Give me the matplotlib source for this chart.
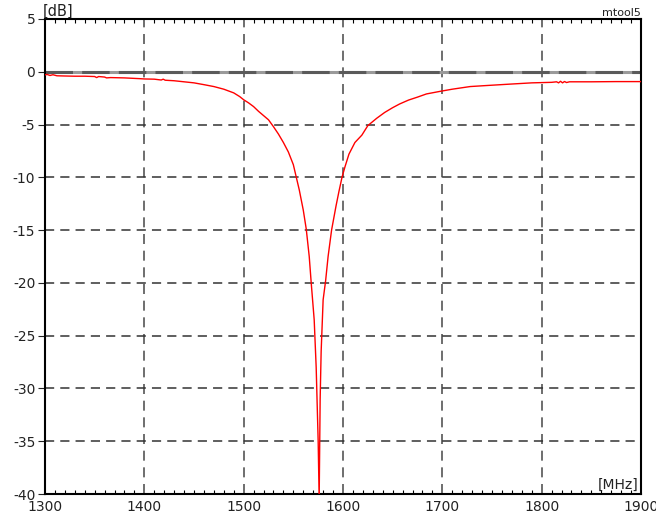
import matplotlib
matplotlib.use('Agg')
import matplotlib.pyplot as plt
from matplotlib.ticker import MultipleLocator

freq = [1300, 1302, 1305, 1308, 1312, 1320, 1330, 1340, 1350, 1352, 1354, 1360, 1362, 1366,
        1380, 1395, 1400, 1410, 1417, 1419, 1421, 1430, 1440, 1450, 1460, 1470, 1480, 1490,
        1496, 1500, 1505, 1510, 1515, 1520, 1525, 1530, 1535, 1540, 1545, 1550, 1553, 1556,
        1560, 1563, 1566, 1568, 1571, 1573, 1575, 1576, 1577, 1578, 1580, 1582.5, 1585,
        1588.5, 1593, 1596, 1599, 1602, 1606, 1612, 1619, 1625, 1634, 1642, 1650, 1657, 1666,
        1675, 1684, 1698, 1710, 1728, 1745, 1768, 1790, 1810, 1815, 1817, 1819, 1821, 1823,
        1825, 1828, 1850, 1875, 1900]
gain = [-0.30, -0.25, -0.35, -0.28, -0.38, -0.40, -0.42, -0.42, -0.45, -0.55, -0.45, -0.50,
        -0.58, -0.55, -0.58, -0.65, -0.68, -0.70, -0.78, -0.70, -0.80, -0.85, -0.95, -1.05,
        -1.22, -1.40, -1.65, -2.00, -2.35, -2.65, -2.95, -3.30, -3.75, -4.15, -4.55, -5.20,
        -5.90, -6.70, -7.60, -8.80, -10.0, -11.2, -13.1, -14.9, -17.5, -20.0, -23.5, -28.0,
        -35.0, -40.5, -31.0, -26.5, -21.6, -19.8, -17.5, -15.0, -12.7, -11.3, -10.0, -9.0,
        -7.8, -6.7, -6.0, -5.1, -4.4, -3.85, -3.4, -3.05, -2.68, -2.4, -2.1, -1.85, -1.65,
        -1.40, -1.30, -1.17, -1.05, -1.00, -0.95, -1.05, -0.90, -1.05, -0.92, -1.02, -0.95,
        -0.95, -0.93, -0.93]

xticks = [1300, 1400, 1500, 1600, 1700, 1800, 1900]
yticks = [5, 0, -5, -10, -15, -20, -25, -30, -35, -40]

plt.rcParams['font.family'] = ['DejaVu Sans']
plt.rcParams['axes.unicode_minus'] = False

fig = plt.figure(figsize=(6.56, 5.22), dpi=100)
ax = fig.add_axes([45/656, 1-494/522, 596/656, 475/522])

for x in xticks[1:-1]:
    ax.axvline(x, color='#555555', lw=1.2, dashes=(6, 4), zorder=1)
for y in yticks[1:-1]:
    if y == 0:
        # zero line: grey band with darker dashes on top
        ax.axhline(0, color='#9a9a9a', lw=2.2, zorder=1)
        ax.axhline(0, color='#5a5a5a', lw=2.2, dashes=(9, 3), zorder=1)
    else:
        ax.axhline(y, color='#333333', lw=1.1, dashes=(6, 4), zorder=1)

ax.plot(freq, gain, color='#ff0000', lw=1.0, zorder=3)

ax.set_xlim(1300, 1900)
ax.set_ylim(-40, 5)
ax.set_xticks(xticks)
ax.set_yticks(yticks)
ax.xaxis.set_minor_locator(MultipleLocator(10))
ax.tick_params(axis='x', which='major', length=0, labelsize=10, colors='#222222', pad=4)
ax.tick_params(axis='x', which='minor', direction='in', length=3, top=True, width=0.8)
ax.tick_params(axis='y', which='major', direction='out', length=5, labelsize=10,
               colors='#222222', pad=2)
for s in ax.spines.values():
    s.set_linewidth(1.5)
    s.set_color('black')

fig.text(43/656, 1-11/522, '[dB]', fontsize=10.5, color='#222222', va='center', ha='left')
fig.text(641/656, 1-13/522, 'mtool5', fontsize=8, color='#222222', va='center', ha='right')
ax.text(0.995, 0.005, '[MHz]', transform=ax.transAxes, fontsize=10, color='#222222',
        ha='right', va='bottom')

fig.savefig('out.png', dpi=100)
